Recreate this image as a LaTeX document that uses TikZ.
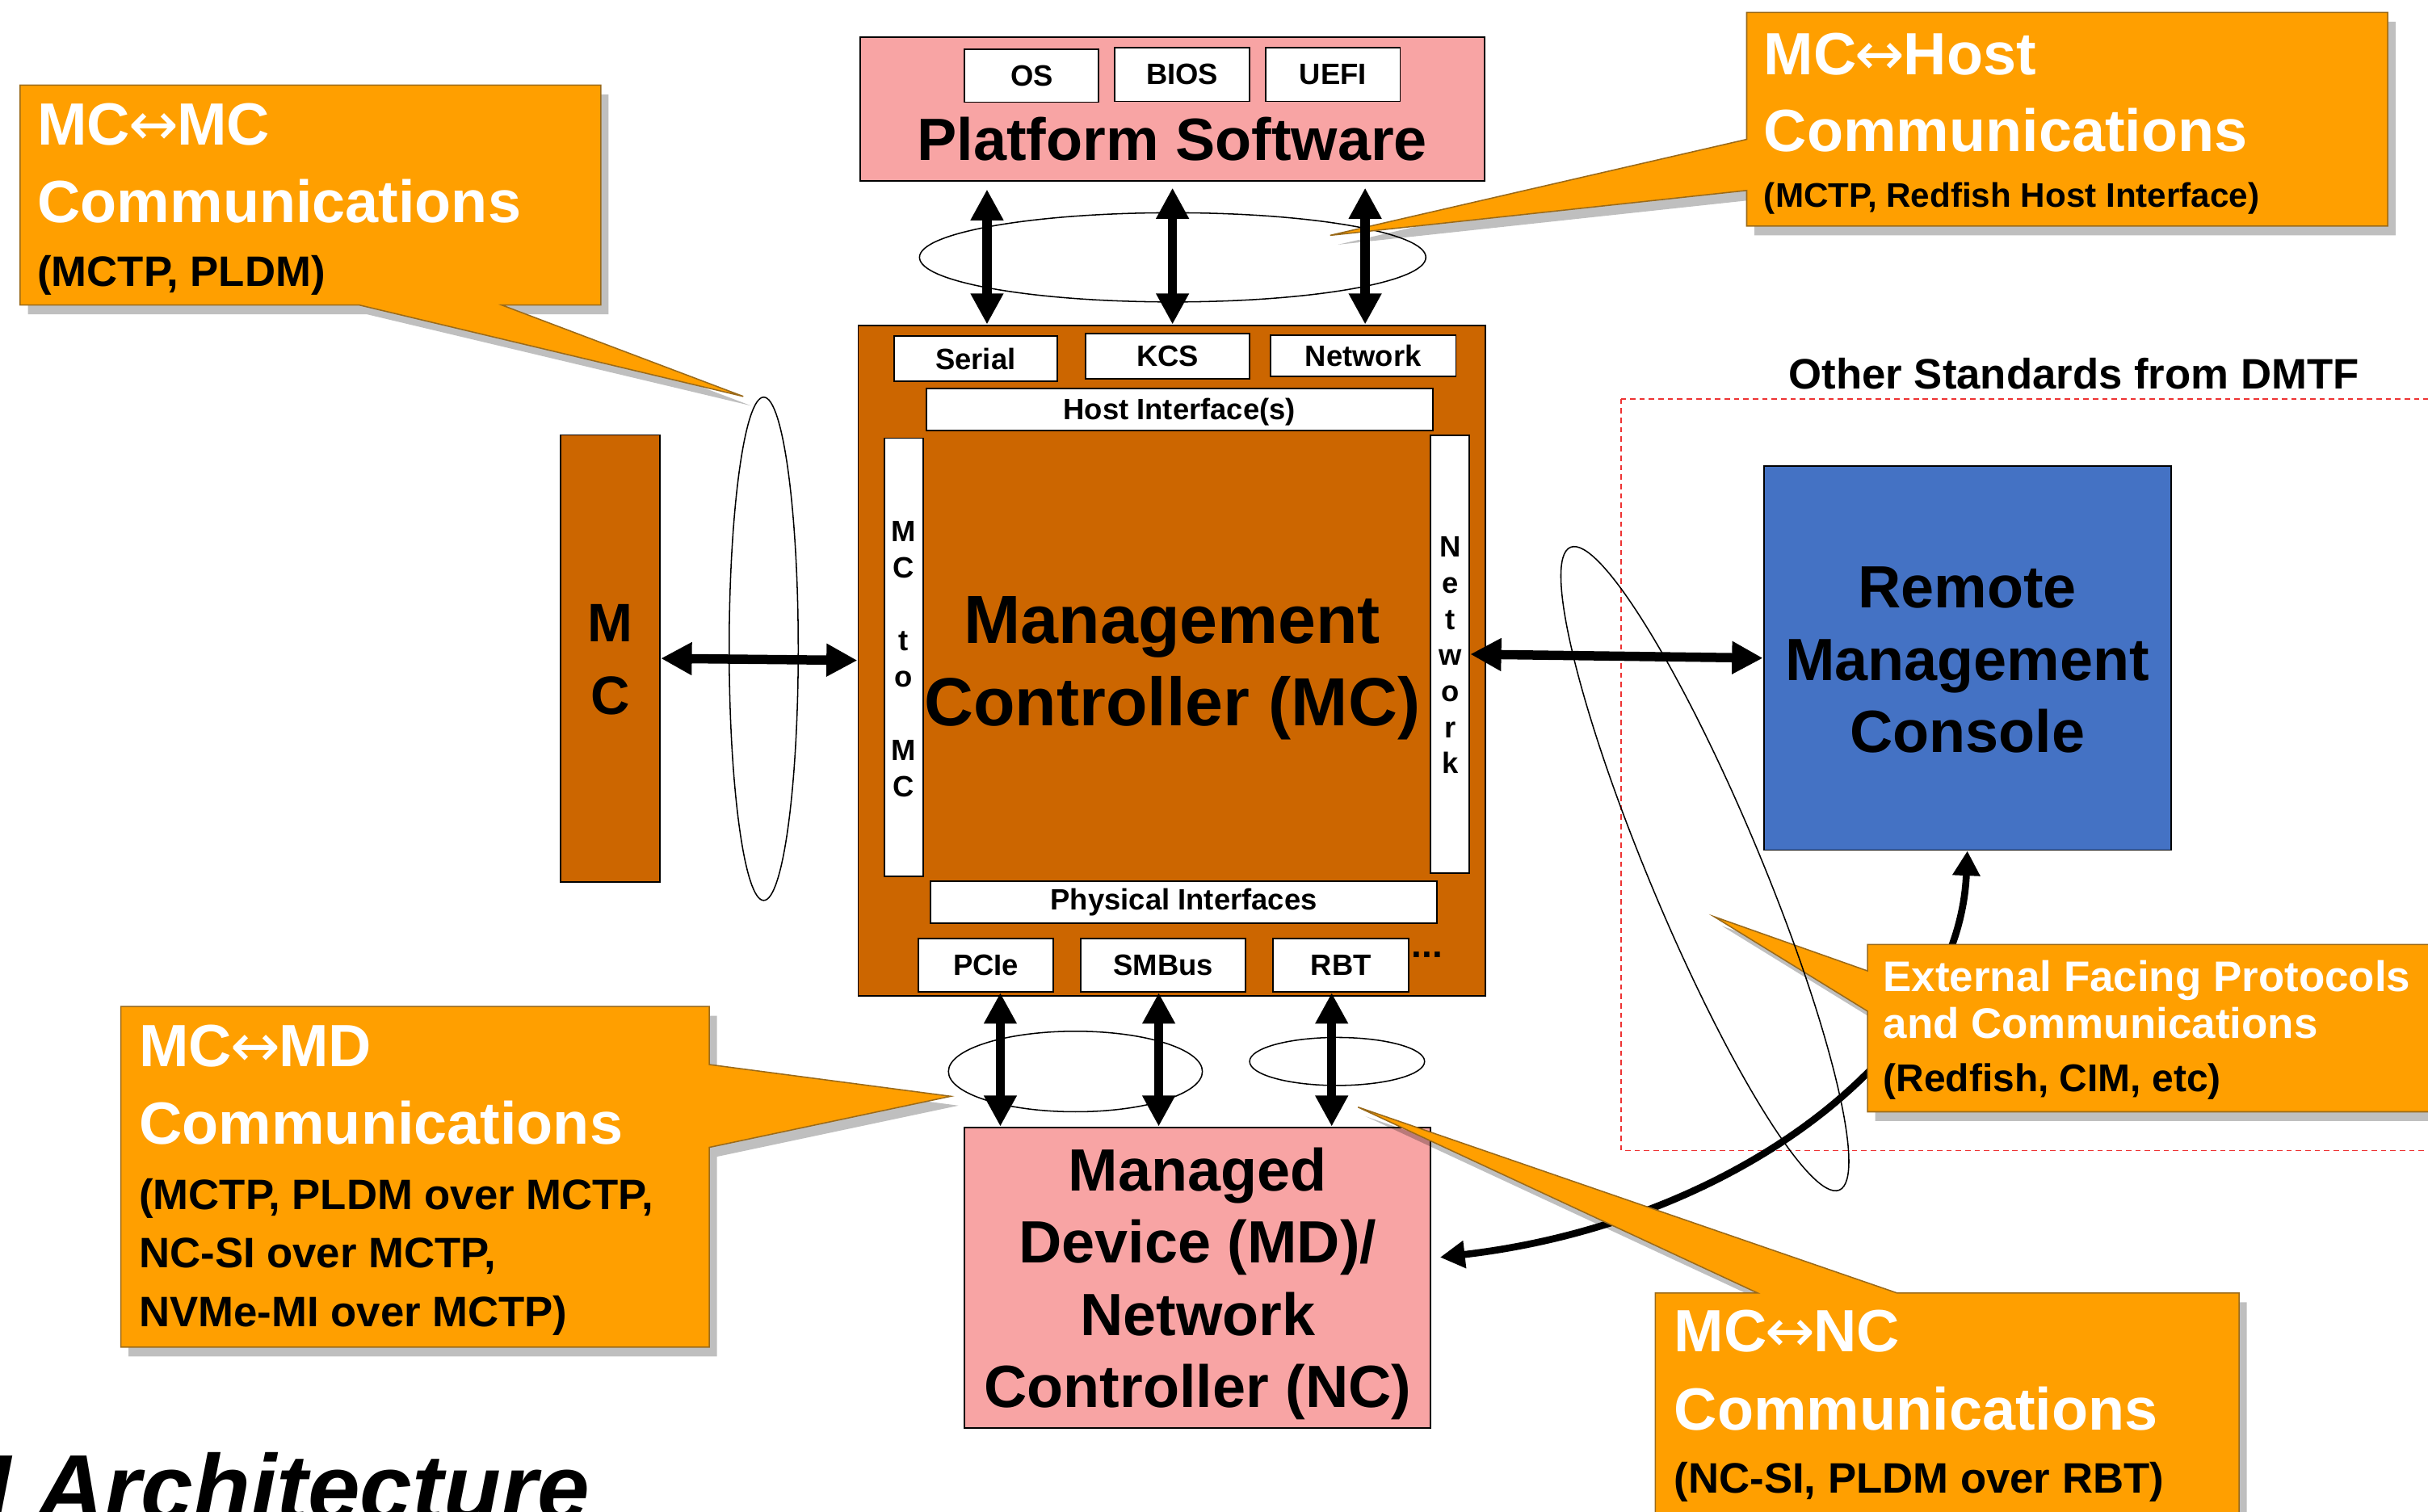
\documentclass[tikz,border=0pt]{standalone}
\usepackage{fontspec}
\setmainfont{Liberation Sans}
\newfontfamily\arrowfont{DejaVu Sans}
\usetikzlibrary{arrows.meta,shadows}

\definecolor{pinkfill}{HTML}{F8A4A4}
\definecolor{mcfill}{HTML}{CC6600}
\definecolor{consolefill}{HTML}{4472C4}
\definecolor{calloutfill}{HTML}{FF9F00}
\definecolor{calloutedge}{HTML}{9A6A1A}
\definecolor{dmtfred}{HTML}{EE3333}

\newcommand{\fsz}[2]{\fontsize{#1}{#2}\selectfont}
\newcommand{\bothways}{{\arrowfont\mdseries\kern-1pt↔\kern-1pt}}

\begin{document}
\begin{tikzpicture}[x=1pt,y=-1pt,
  outline/.style={draw=black, line width=1pt, inner sep=0pt},
  wbox/.style={outline, fill=white, font=\bfseries\fsz{19}{23}},
  bigarrow/.style={line width=6pt, >={Triangle[width=20pt,length=20pt]}, <->},
  ring/.style={draw=black, line width=0.8pt},
  callout/.style={fill=calloutfill, draw=calloutedge, line width=0.8pt,
    drop shadow={shadow xshift=5pt, shadow yshift=-6pt, opacity=0.25, fill=black}},
  ctitle/.style={anchor=base west, inner sep=0pt, text=white, font=\bfseries\fsz{38.5}{46}},
  cnote/.style={anchor=base west, inner sep=0pt, text=black, font=\bfseries\fsz{27.5}{33}},
]
\useasboundingbox (0,0) rectangle (1568,976);
\clip (0,0) rectangle (1568,976);
\fill[white] (0,0) rectangle (1568,976);

% dashed frame of the other DMTF standards
\draw[dmtfred, line width=0.9pt, dash pattern=on 3.5pt off 2.6pt] (1047,257.5) rectangle (1600,743);
\node[anchor=base west, inner sep=0pt, font=\bfseries\fsz{27.5}{33}] (dmtf) at (1155,251) {Other Standards from DMTF};

% platform software
\node[outline, fill=pinkfill, minimum width=403pt, minimum height=92.8pt] (platform) at (757,70.4) {};
\node[wbox, minimum width=86.6pt, minimum height=34pt] (os) at (666.3,49) {OS};
\node[wbox, minimum width=86.8pt, minimum height=34.5pt] (bios) at (763.4,48.2) {BIOS};
\node[wbox, minimum width=86.8pt, minimum height=34.5pt] (uefi) at (860.8,48.2) {UEFI};
\node[anchor=base, inner sep=0pt, font=\bfseries\fsz{38.5}{46}] (pstitle) at (757,103.3) {Platform Software};

% management controller
\node[outline, fill=mcfill, minimum width=405pt, minimum height=433pt] (mcbox) at (756.7,426.5) {};
\node[wbox, minimum width=105.5pt, minimum height=29pt] (serial) at (630,231.7) {Serial};
\node[wbox, minimum width=105.5pt, minimum height=29pt] (kcs) at (754,230.1) {KCS};
\node[wbox, minimum width=119.8pt, minimum height=26.4pt] (netport) at (880.3,229.8) {Network};
\node[wbox, minimum width=327pt, minimum height=27pt, text depth=1pt] (hostif) at (761.7,264.5) {Host Interface(s)};
\node[wbox, minimum width=25pt, minimum height=283pt] (mc2mc) at (583.5,424.5) {};
\node[wbox, minimum width=25pt, minimum height=283pt] (netbar) at (936.5,422.5) {};
\node[align=center, inner sep=0pt, font=\bfseries\fsz{19}{23.5}] (mc2mctext) at (583.5,425.7)
  {M\\C\\[23.5pt]t\\o\\[23.5pt]M\\C};
\node[align=center, inner sep=0pt, font=\bfseries\fsz{19}{23.3}] (netbartext) at (936.5,423.2)
  {N\\e\\t\\w\\o\\r\\k};
\node[wbox, minimum width=327pt, minimum height=27pt] (phys) at (764.5,582.5) {Physical Interfaces};
\node[wbox, minimum width=86.8pt, minimum height=34.3pt] (pcie) at (636.7,623.5) {PCIe};
\node[wbox, minimum width=106.4pt, minimum height=34.3pt] (smbus) at (751.3,623.5) {SMBus};
\node[wbox, minimum width=87.5pt, minimum height=34.3pt] (rbt) at (866,623.5) {RBT};
\node[anchor=base, inner sep=0pt, font=\bfseries\fsz{24}{28}] (more) at (921.5,618.5) {...};
\node[align=center, inner sep=0pt, font=\bfseries\fsz{44}{53}] (mctitle) at (757,431.4)
  {Management\\Controller (MC)};

% peer management controller
\node[outline, fill=mcfill, minimum width=64.4pt, minimum height=288.6pt] (peermc) at (394.1,425.2) {};
\node[align=center, inner sep=0pt, font=\bfseries\fsz{35}{47}] (peermctext) at (394.1,426) {M\\C};

% remote console
\node[outline, fill=consolefill, minimum width=263pt, minimum height=248pt] (console) at (1270.5,425) {};
\node[align=center, inner sep=0pt, font=\bfseries\fsz{38.5}{46.7}] (consoletext) at (1270.5,426.2)
  {Remote\\Management\\Console};

% managed device
\node[outline, fill=pinkfill, minimum width=301pt, minimum height=194pt] (md) at (773.5,825) {};
\node[align=center, inner sep=0pt, font=\bfseries\fsz{38.5}{46.7}] (mdtext) at (773.5,829)
  {Managed\\Device (MD)/\\Network\\Controller (NC)};

% link groupings
\draw[ring] (757.3,166.2) ellipse [x radius=163.5pt, y radius=28.8pt];
\draw[ring] (493.2,419) ellipse [x radius=22.3pt, y radius=162.5pt];
\draw[ring] (694.5,692) ellipse [x radius=82pt, y radius=26pt];
\draw[ring] (863.5,685.5) ellipse [x radius=56.5pt, y radius=15.5pt];

% lower links
\coordinate (bx1) at (646,0);
\coordinate (bx2) at (748.3,0);
\coordinate (bx3) at (860,0);
\draw[bigarrow] (pcie.south -| bx1) -- (md.north -| bx1);
\draw[bigarrow] (smbus.south -| bx2) -- (md.north -| bx2);
\draw[bigarrow] (rbt.south -| bx3) -- (md.north -| bx3);
\draw[bigarrow] (peermc.east) -- (mcbox.west);
\draw[bigarrow] (netbar.east) -- (console.west);

% console to device path
\coordinate (mdport) at (930,812);
\draw[line width=4.5pt, >={Triangle[width=17pt,length=16pt]}, <->]
  (console.south) .. controls (1265,680) and (1120,790) .. (mdport);

% callouts
\path[callout] (13,55) -- (388,55) -- (388,197) -- (324,197) -- (480,256) -- (232,197) -- (13,197) -- cycle;
\path[callout] (1128,8) -- (1542,8) -- (1542,146) -- (1128,146) -- (1128,123) -- (859,152) -- (1128,90) -- cycle;
\path[callout] (78,650) -- (458,650) -- (458,687.5) -- (614,708) -- (458,741) -- (458,870) -- (78,870) -- cycle;
\path[callout] (1069,835) -- (1135,835) -- (877,715) -- (1225,835) -- (1446,835) -- (1446,1000) -- (1069,1000) -- cycle;
\path[callout] (1206,610) -- (1600,610) -- (1600,718) -- (1206,718) -- (1206,653) -- (1107,592) -- (1206,627) -- cycle;

\draw[ring, rotate around={-67.3:(1101,561)}] (1101,561) ellipse [x radius=225pt, y radius=36pt];

% host links
\coordinate (ax1) at (637.4,0);
\coordinate (ax2) at (757.2,0);
\coordinate (ax3) at (881.6,0);
\draw[bigarrow, shorten <=5pt] (platform.south -| ax1) -- (mcbox.north -| ax1);
\draw[bigarrow, shorten <=4pt] (platform.south -| ax2) -- (mcbox.north -| ax2);
\draw[bigarrow, shorten <=4pt] (platform.south -| ax3) -- (mcbox.north -| ax3);

% callout texts
\node[ctitle] (mcmc1) at (24,93.5) {MC\bothways MC};
\node[ctitle] (mcmc2) at (24,143.7) {Communications};
\node[cnote] (mcmc3) at (24,184.7) {(MCTP, PLDM)};

\node[ctitle] (host1) at (1139,48) {MC\bothways Host};
\node[ctitle] (host2) at (1139,97.8) {Communications};
\node[cnote, font=\bfseries\fsz{22}{26}] (host3) at (1139,133.8) {(MCTP, Redfish Host Interface)};

\node[ctitle] (md1) at (89.7,689) {MC\bothways MD};
\node[ctitle] (md2) at (89.7,739) {Communications};
\node[cnote] (md3) at (89.7,781) {(MCTP, PLDM over MCTP,};
\node[cnote] (md4) at (89.7,818.6) {NC-SI over MCTP,};
\node[cnote] (md5) at (89.7,857) {NVMe-MI over MCTP)};

\node[ctitle] (nc1) at (1081,873) {MC\bothways NC};
\node[ctitle] (nc2) at (1081,923.5) {Communications};
\node[cnote] (nc3) at (1081,964) {(NC-SI, PLDM over RBT)};

\node[ctitle, font=\bfseries\fsz{27.6}{30}] (ext1) at (1216,640.5) {External Facing Protocols};
\node[ctitle, font=\bfseries\fsz{27.6}{30}] (ext2) at (1216,670.5) {and Communications};
\node[cnote, font=\bfseries\fsz{25}{30}] (ext3) at (1216,705) {(Redfish, CIM, etc)};

% page title, partly outside the frame
\node[anchor=base west, inner sep=0pt, font=\bfseries\itshape\fsz{60.6}{70}] (archtitle) at (-10,982) {I Architecture};
\end{tikzpicture}
\end{document}
